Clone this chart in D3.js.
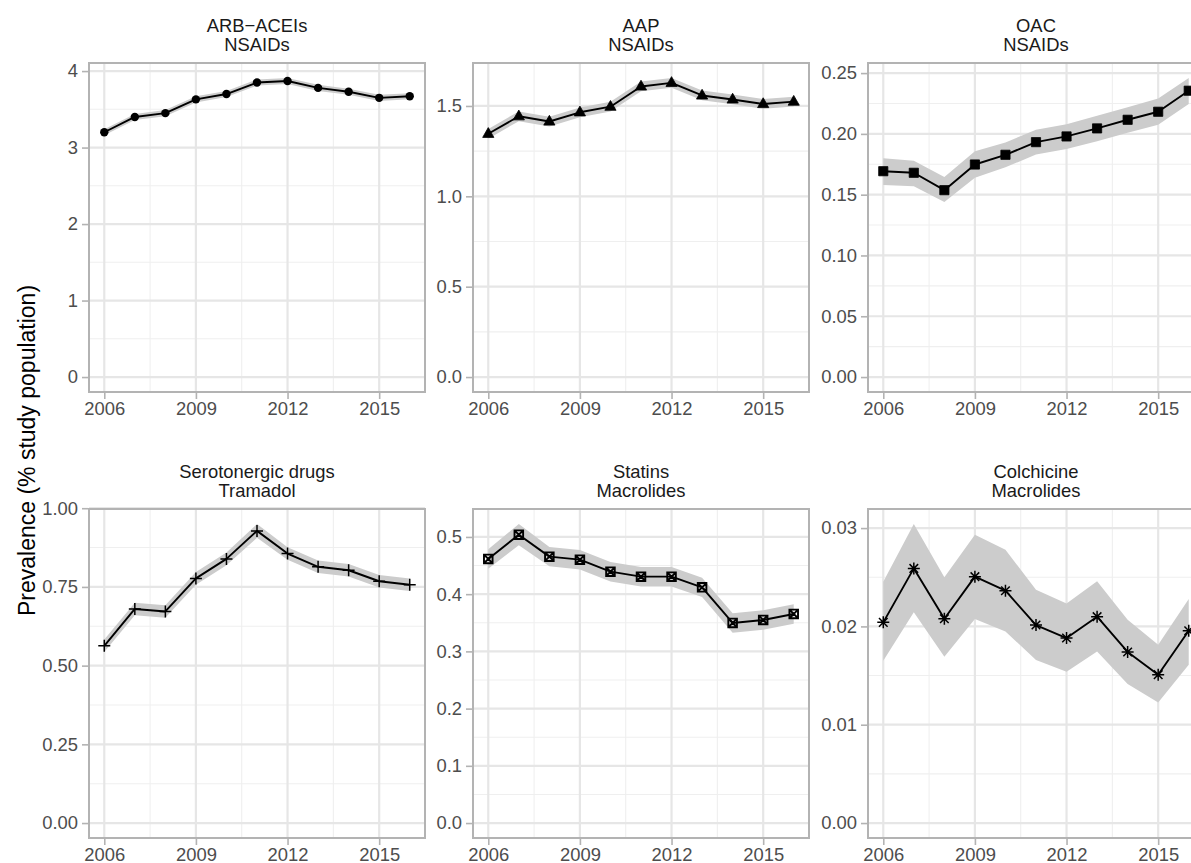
<!DOCTYPE html>
<html>
<head>
<meta charset="utf-8">
<script src="https://cdn.jsdelivr.net/npm/d3@7"></script>
<style>
  html, body { margin: 0; padding: 0; background: #ffffff; }
  svg { display: block; }
  text { font-family: "Liberation Sans", Arial, sans-serif; }
</style>
</head>
<body>
<svg id="chart" width="1191" height="863"></svg>
<script>
// ---------------- DATA ----------------
const years = [2006, 2007, 2008, 2009, 2010, 2011, 2012, 2013, 2014, 2015, 2016];
const xTicks = [2006, 2009, 2012, 2015];
const xMinorTicks = [2007.5, 2010.5, 2013.5];

const panelTitles = [
  ["ARB\u2212ACEIs", "NSAIDs"],
  ["AAP", "NSAIDs"],
  ["OAC", "NSAIDs"],
  ["Serotonergic drugs", "Tramadol"],
  ["Statins", "Macrolides"],
  ["Colchicine", "Macrolides"]
];
const markerShapes = ["circle", "triangle", "square", "plus", "squarecross", "asterisk"];

// ARB-ACEIs + NSAIDs
const arbValues = [3.20, 3.40, 3.45, 3.63, 3.70, 3.85, 3.87, 3.78, 3.73, 3.65, 3.67];
const arbLower  = [3.16, 3.36, 3.41, 3.59, 3.66, 3.81, 3.83, 3.74, 3.69, 3.61, 3.63];
const arbUpper  = [3.24, 3.44, 3.49, 3.67, 3.74, 3.89, 3.91, 3.82, 3.77, 3.69, 3.71];
// AAP + NSAIDs
const aapValues = [1.346, 1.443, 1.414, 1.465, 1.496, 1.608, 1.628, 1.558, 1.536, 1.511, 1.524];
const aapLower  = [1.319, 1.416, 1.387, 1.438, 1.469, 1.581, 1.601, 1.531, 1.509, 1.484, 1.497];
const aapUpper  = [1.373, 1.470, 1.441, 1.492, 1.523, 1.635, 1.655, 1.585, 1.563, 1.538, 1.551];
// OAC + NSAIDs
const oacValues = [0.1693, 0.1680, 0.1537, 0.1748, 0.1828, 0.1932, 0.1979, 0.2045, 0.2116, 0.2182, 0.2355];
const oacLower  = [0.1580, 0.1570, 0.1440, 0.1640, 0.1725, 0.1830, 0.1875, 0.1940, 0.2010, 0.2075, 0.2245];
const oacUpper  = [0.1800, 0.1780, 0.1645, 0.1858, 0.1930, 0.2035, 0.2080, 0.2150, 0.2220, 0.2290, 0.2460];
// Serotonergic drugs + Tramadol
const seroValues = [0.563, 0.680, 0.672, 0.777, 0.839, 0.928, 0.856, 0.814, 0.803, 0.768, 0.757];
const seroLower  = [0.543, 0.660, 0.652, 0.757, 0.819, 0.906, 0.836, 0.794, 0.783, 0.748, 0.737];
const seroUpper  = [0.583, 0.700, 0.692, 0.797, 0.859, 0.950, 0.876, 0.834, 0.823, 0.788, 0.777];
// Statins + Macrolides
const statValues = [0.4615, 0.5040, 0.4656, 0.4603, 0.4393, 0.4306, 0.4306, 0.4119, 0.3497, 0.3549, 0.3654];
const statLower  = [0.4445, 0.4855, 0.4486, 0.4433, 0.4223, 0.4136, 0.4136, 0.3949, 0.3327, 0.3379, 0.3484];
const statUpper  = [0.4785, 0.5227, 0.4826, 0.4773, 0.4563, 0.4476, 0.4476, 0.4289, 0.3667, 0.3719, 0.3824];
// Colchicine + Macrolides
const colValues = [0.02041, 0.02590, 0.02078, 0.02506, 0.02363, 0.02014, 0.01882, 0.02099, 0.01740, 0.01509, 0.01956];
const colLower  = [0.01651, 0.02143, 0.01692, 0.02075, 0.01949, 0.01658, 0.01539, 0.01746, 0.01414, 0.01227, 0.01610];
const colUpper  = [0.02455, 0.03042, 0.02499, 0.02933, 0.02780, 0.02373, 0.02234, 0.02458, 0.02068, 0.01814, 0.02279];

// y tick values and labels per panel
const arbTicks  = [0, 1, 2, 3, 4];            const arbTickLabels  = ["0", "1", "2", "3", "4"];
const arbMinor  = [0.5, 1.5, 2.5, 3.5];
const aapTicks  = [0, 0.5, 1.0, 1.5];         const aapTickLabels  = ["0.0", "0.5", "1.0", "1.5"];
const aapMinor  = [0.25, 0.75, 1.25];
const oacTicks  = [0, 0.05, 0.10, 0.15, 0.20, 0.25]; const oacTickLabels = ["0.00", "0.05", "0.10", "0.15", "0.20", "0.25"];
const oacMinor  = [0.025, 0.075, 0.125, 0.175, 0.225];
const seroTicks = [0, 0.25, 0.5, 0.75, 1.0];  const seroTickLabels = ["0.00", "0.25", "0.50", "0.75", "1.00"];
const seroMinor = [0.125, 0.375, 0.625, 0.875];
const statTicks = [0, 0.1, 0.2, 0.3, 0.4, 0.5]; const statTickLabels = ["0.0", "0.1", "0.2", "0.3", "0.4", "0.5"];
const statMinor = [0.05, 0.15, 0.25, 0.35, 0.45];
const colTicks  = [0, 0.01, 0.02, 0.03];      const colTickLabels  = ["0.00", "0.01", "0.02", "0.03"];
const colMinor  = [0.005, 0.015, 0.025];

const yTitle = "Prevalence (% study population)";

// ---------------- LAYOUT / STYLE ----------------
const panels = [
  {values: arbValues,  lower: arbLower,  upper: arbUpper,  ticks: arbTicks,  labels: arbTickLabels,  minor: arbMinor},
  {values: aapValues,  lower: aapLower,  upper: aapUpper,  ticks: aapTicks,  labels: aapTickLabels,  minor: aapMinor},
  {values: oacValues,  lower: oacLower,  upper: oacUpper,  ticks: oacTicks,  labels: oacTickLabels,  minor: oacMinor},
  {values: seroValues, lower: seroLower, upper: seroUpper, ticks: seroTicks, labels: seroTickLabels, minor: seroMinor},
  {values: statValues, lower: statLower, upper: statUpper, ticks: statTicks, labels: statTickLabels, minor: statMinor},
  {values: colValues,  lower: colLower,  upper: colUpper,  ticks: colTicks,  labels: colTickLabels,  minor: colMinor}
];

const colLeft = [89, 473, 868];
const rowTop = [63, 509];
const pw = 336, ph = 329;
const fontSmall = 18.4;

const svg = d3.select("#chart");
svg.append("rect").attr("width", 1191).attr("height", 863).attr("fill", "#ffffff");

const defs = svg.append("defs");

function markerPath(shape) {
  switch (shape) {
    case "circle": return null;
    case "triangle": return "M0,-6.2L5.6,3.6L-5.6,3.6Z";
    case "square": return "M-4.6,-4.6H4.6V4.6H-4.6Z";
    case "plus": return "M-6,0H6M0,-6V6";
    case "squarecross": return "M-4.3,-4.3H4.3V4.3H-4.3ZM-4.3,-4.3L4.3,4.3M4.3,-4.3L-4.3,4.3";
    case "asterisk": return "M-6,0H6M0,-6V6M-4.3,-4.3L4.3,4.3M4.3,-4.3L-4.3,4.3";
  }
}

panels.forEach((p, i) => {
  const col = i % 3, row = Math.floor(i / 3);
  const left = colLeft[col], top = rowTop[row];

  const xExt = d3.extent(years);
  const xPad = 0.05 * (xExt[1] - xExt[0]);
  const x = d3.scaleLinear().domain([xExt[0] - xPad, xExt[1] + xPad]).range([0, pw]);

  const lo = Math.min(0, d3.min(p.lower));
  const hi = d3.max(p.upper);
  const yPad = 0.05 * (hi - lo);
  const y = d3.scaleLinear().domain([lo - yPad, hi + yPad]).range([ph, 0]);

  const g = svg.append("g").attr("transform", `translate(${left},${top})`);

  const clipId = "clip" + i;
  defs.append("clipPath").attr("id", clipId)
    .append("rect").attr("x", 0).attr("y", 0).attr("width", pw).attr("height", ph);

  // grid
  const grid = g.append("g");
  grid.selectAll(".ymin").data(p.minor).join("line")
    .attr("x1", 0).attr("x2", pw).attr("y1", d => y(d)).attr("y2", d => y(d))
    .attr("stroke", "#efefef").attr("stroke-width", 1.1);
  grid.selectAll(".xmin").data(xMinorTicks).join("line")
    .attr("class", "xmin")
    .attr("y1", 0).attr("y2", ph).attr("x1", d => x(d)).attr("x2", d => x(d))
    .attr("stroke", "#efefef").attr("stroke-width", 1.1);
  grid.selectAll(".ymaj").data(p.ticks).join("line")
    .attr("class", "ymaj")
    .attr("x1", 0).attr("x2", pw).attr("y1", d => y(d)).attr("y2", d => y(d))
    .attr("stroke", "#e6e6e6").attr("stroke-width", 2.2);
  grid.selectAll(".xmaj").data(xTicks).join("line")
    .attr("class", "xmaj")
    .attr("y1", 0).attr("y2", ph).attr("x1", d => x(d)).attr("x2", d => x(d))
    .attr("stroke", "#e6e6e6").attr("stroke-width", 2.2);

  // data
  const dataG = g.append("g").attr("clip-path", `url(#${clipId})`);
  const rows = years.map((yr, k) => ({yr, v: p.values[k], l: p.lower[k], u: p.upper[k]}));

  dataG.append("path").datum(rows)
    .attr("d", d3.area().x(d => x(d.yr)).y0(d => y(d.l)).y1(d => y(d.u)))
    .attr("fill", "#cccccc");
  dataG.append("path").datum(rows)
    .attr("d", d3.line().x(d => x(d.yr)).y(d => y(d.v)))
    .attr("fill", "none").attr("stroke", "#000000").attr("stroke-width", 1.9)
    .attr("stroke-linejoin", "round");

  const shape = markerShapes[i];
  if (shape === "circle") {
    dataG.selectAll("circle.pt").data(rows).join("circle")
      .attr("class", "pt")
      .attr("cx", d => x(d.yr)).attr("cy", d => y(d.v)).attr("r", 4.2)
      .attr("fill", "#000000");
  } else {
    const filled = (shape === "triangle" || shape === "square");
    dataG.selectAll("path.pt").data(rows).join("path")
      .attr("class", "pt")
      .attr("transform", d => `translate(${x(d.yr)},${y(d.v)})`)
      .attr("d", markerPath(shape))
      .attr("fill", filled ? "#000000" : "none")
      .attr("stroke", "#000000")
      .attr("stroke-width", filled ? 0.8 : (shape === "squarecross" ? 1.9 : 1.5));
  }

  // border
  g.append("rect").attr("x", 0).attr("y", 0).attr("width", pw).attr("height", ph)
    .attr("fill", "none").attr("stroke", "#b3b3b3").attr("stroke-width", 2);

  // axes
  const yAxis = d3.axisLeft(y).tickValues(p.ticks)
    .tickFormat((d, k) => p.labels[k]).tickSize(6).tickPadding(4);
  const ya = g.append("g").attr("transform", "translate(-1,0)").call(yAxis);
  const xAxis = d3.axisBottom(x).tickValues(xTicks).tickFormat(d3.format("d")).tickSize(6).tickPadding(3);
  const xa = g.append("g").attr("transform", `translate(0,${ph + 1})`).call(xAxis);
  [ya, xa].forEach(a => {
    a.select(".domain").remove();
    a.selectAll(".tick line").attr("stroke", "#b3b3b3").attr("stroke-width", 1.6);
    a.selectAll(".tick text").attr("fill", "#4d4d4d")
      .style("font-size", fontSmall + "px")
      .style("font-family", '"Liberation Sans", Arial, sans-serif');
  });

  // strip titles
  const strip = g.append("text").attr("text-anchor", "middle")
    .attr("fill", "#1a1a1a").style("font-size", fontSmall + "px");
  strip.append("tspan").attr("x", pw / 2).attr("y", -31.5).text(panelTitles[i][0]);
  strip.append("tspan").attr("x", pw / 2).attr("y", -12).text(panelTitles[i][1]);
});

// y axis title
svg.append("text")
  .attr("transform", `translate(35,${(rowTop[0] + rowTop[1] + ph) / 2}) rotate(-90)`)
  .attr("text-anchor", "middle")
  .attr("fill", "#000000")
  .style("font-size", "23px")
  .text(yTitle);
</script>
</body>
</html>
